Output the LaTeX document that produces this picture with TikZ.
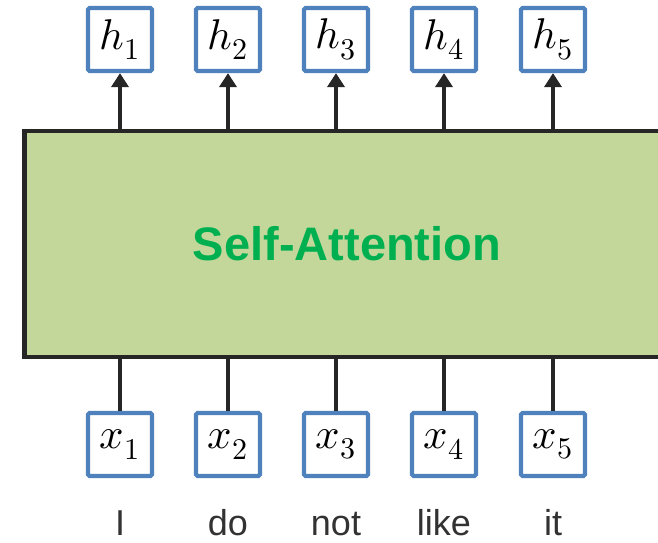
\documentclass[tikz,border=0pt]{standalone}
\usepackage{fontspec}
\usepackage{unicode-math}
\setmathfont{Latin Modern Math}
\setmainfont{Liberation Sans}
\usetikzlibrary{arrows.meta}
\definecolor{boxgreen}{RGB}{196,215,155}
\definecolor{txtgreen}{RGB}{0,176,80}
\definecolor{vecblue}{RGB}{79,129,189}
\definecolor{dark}{RGB}{38,38,38}
\definecolor{wordgray}{RGB}{50,50,50}
\tikzset{
  vecbox/.style={draw=vecblue, line width=4.2pt, fill=white, rounded corners=1.5pt,
    minimum width=64pt, minimum height=63pt, inner sep=0pt,
    font=\fontsize{43}{46}\selectfont},
  conn/.style={draw=dark, line width=4pt},
  uparrow/.style={conn, -{Triangle[width=17pt,length=14pt]}},
  word/.style={anchor=base, text=wordgray, font=\fontsize{36}{40}\selectfont, inner sep=0pt},
  sabox/.style={draw=dark, fill=boxgreen, line width=4.5pt, minimum width=645pt,
    minimum height=226pt, inner sep=0pt, text=txtgreen,
    font=\fontsize{47}{50}\selectfont\bfseries}
}
\begin{document}
\begin{tikzpicture}[x=1pt,y=-1pt]
\clip (0,0) rectangle (658,542);
\useasboundingbox (0,0) rectangle (658,542);
\node[sabox] (sa) at (347,244) {Self-Attention};
\foreach \i/\x/\w in {1/120/I,2/228/do,3/336/not,4/444/like,5/553/it}{
  \node[vecbox] (h\i) at (\x,39.5) {$h_{\i}$};
  \node[vecbox] (x\i) at (\x,444.5) {$x_{\i}$};
  \node[word] (w\i) at (\x,535) {\w};
  \draw[uparrow] (sa.north -| h\i) -- (h\i.south);
  \draw[conn] (x\i.north) -- (sa.south -| x\i);
}
\end{tikzpicture}
\end{document}
